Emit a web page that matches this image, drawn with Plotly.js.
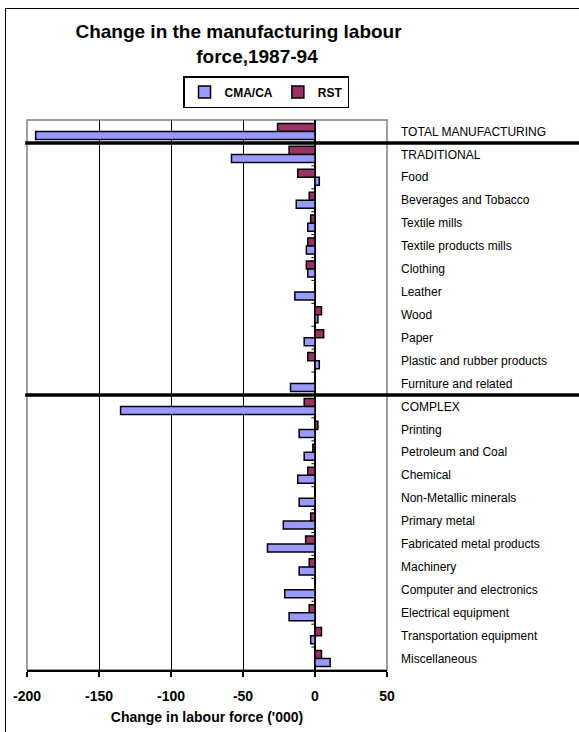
<!DOCTYPE html>
<html><head><meta charset="utf-8">
<script src="https://cdn.plot.ly/plotly-3.0.1.min.js"></script>
<style>
html,body{margin:0;padding:0;background:#fff;overflow:hidden}
#wrap{position:relative;width:579px;height:732px}
#chart{width:579px;height:732px}
#frame{position:absolute;left:5px;top:8px;width:700px;height:800px;border:1.5px solid #000;pointer-events:none}
</style></head>
<body><div id="wrap"><div id="chart"></div><div id="frame"></div></div>
<script>
const categories = ["TOTAL MANUFACTURING","TRADITIONAL","Food","Beverages and Tobacco","Textile mills","Textile products mills","Clothing","Leather","Wood","Paper","Plastic and rubber products","Furniture and related","COMPLEX","Printing","Petroleum and Coal","Chemical","Non-Metallic minerals","Primary metal","Fabricated metal products","Machinery","Computer and electronics","Electrical equipment","Transportation equipment","Miscellaneous"];
const cmaCA = [-194,-58,3,-13,-5,-6,-5,-14,2,-7.5,3,-17,-135,-11,-7.5,-12,-11,-22,-33,-11,-21,-18,-3,10.5];
const rst   = [-26,-18,-12,-4,-3,-5,-6,0,4.5,6,-5,0,-7.5,2,-1.5,-5,0,-3,-6.5,-4,0,-4,4.5,4.5];
const xTicks = [-200,-150,-100,-50,0,50];
const groupBreaks = [0.5, 11.5];

const font = "Liberation Sans, Arial, sans-serif";
const traces = [
  {type:'bar', orientation:'h', name:'RST', y:categories, x:rst, legendrank:2,
   marker:{color:'#993366', line:{color:'#000', width:1.5}}},
  {type:'bar', orientation:'h', name:'CMA/CA', y:categories, x:cmaCA, legendrank:1,
   marker:{color:'#9999FF', line:{color:'#000', width:1.5}}}
];
const shapes = [];
shapes.push({type:'rect', xref:'paper', yref:'paper', x0:0, x1:1, y0:0, y1:1, line:{color:'#808080', width:1.5}, layer:'below'});
for (let i = 0; i < categories.length - 1; i++) {
  shapes.push({type:'line', xref:'x', yref:'y', x0:-2.5, x1:0, y0:i+0.5, y1:i+0.5, line:{color:'#000', width:1}});
}
groupBreaks.forEach(b => shapes.push({type:'line', xref:'paper', yref:'y', x0:-0.005, x1:1.6, y0:b, y1:b, line:{color:'#000', width:3.5}}));

const pad = '\u00A0'.repeat(7);
const layout = {
  width:579, height:732,
  margin:{l:27, r:192, t:120, b:62},
  paper_bgcolor:'#fff', plot_bgcolor:'#fff',
  font:{family:font, color:'#000'},
  title:{text:'Change in the manufacturing labour<br>' + pad + 'force,1987-94', x:238.5/579, xanchor:'center', y:0.948, yanchor:'top',
         font:{family:font, size:19, weight:'bold', color:'#000'}},
  barmode:'group', bargap:0.3, bargroupgap:0,
  showlegend:true,
  legend:{orientation:'h', x:0.664, xanchor:'center', y:1.08, yanchor:'top', bordercolor:'#000', borderwidth:1.5,
          font:{family:font, size:12, weight:'bold'}, itemwidth:30, traceorder:'normal', bgcolor:'#fff'},
  xaxis:{range:[-200,50], tickvals:xTicks, ticktext:xTicks.map(String), showgrid:true, gridcolor:'#000', gridwidth:1,
         zeroline:true, zerolinecolor:'#000', zerolinewidth:1.5,
         showline:true, linecolor:'#000', linewidth:1.5, ticks:'outside', ticklen:5, tickcolor:'#000', tickwidth:1.5,
         ticklabelstandoff:8,
         tickfont:{family:font, size:14, weight:'bold'},
         title:{text:"Change in labour force ('000)", font:{family:font, size:14, weight:'bold'}, standoff:9}},
  yaxis:{type:'category', autorange:'reversed', side:'right', showgrid:false, zeroline:false, showline:false, ticks:'',
         ticklabelstandoff:13, tickfont:{family:font, size:12}},
  shapes:shapes
};
Plotly.newPlot('chart', traces, layout, {staticPlot:true, displayModeBar:false});
</script></body></html>
